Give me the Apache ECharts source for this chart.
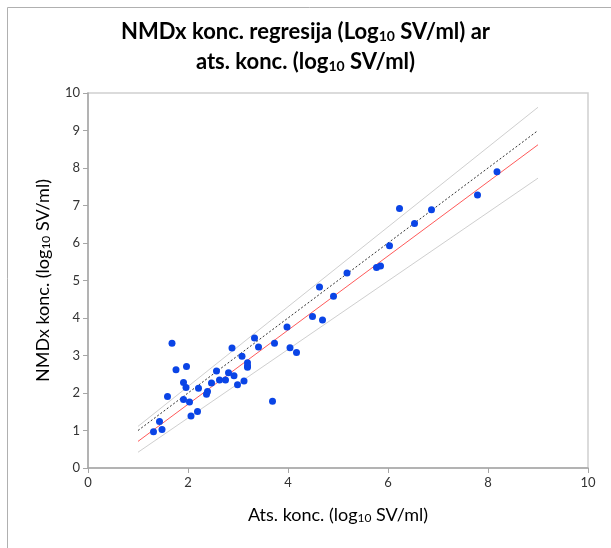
<!DOCTYPE html>
<html>
<head>
<meta charset="utf-8">
<script src="https://cdn.jsdelivr.net/npm/echarts@6/dist/echarts.min.js"></script>
<style>
  html, body { margin: 0; padding: 0; background: #fff; }
  #main { width: 611px; height: 548px; }
</style>
</head>
<body>
<div id="main"></div>
<script>
"use strict";
// atsauces koncentrācija (x) un NMDx koncentrācija (y), log10 SV/ml
let atsX = [1.31,1.43,1.48,1.59,1.68,1.76,1.91,1.91,1.96,1.97,2.03,2.06,2.19,2.21,2.37,2.39,2.47,2.57,2.63,2.75,
            2.81,2.88,2.92,2.99,3.08,3.12,3.19,3.19,3.19,3.33,3.41,3.69,3.73,3.98,4.04,4.17,4.49,4.63,4.69,4.91,
            5.18,5.77,5.85,6.03,6.23,6.53,6.87,7.79,8.18];
let nmdxY = [0.97,1.24,1.03,1.91,3.33,2.62,2.28,1.83,2.15,2.71,1.76,1.39,1.51,2.13,1.97,2.04,2.27,2.59,2.35,2.35,
             2.54,3.20,2.46,2.22,2.98,2.32,2.81,2.72,2.69,3.47,3.23,1.78,3.33,3.76,3.21,3.08,4.04,4.83,3.95,4.58,
             5.20,5.35,5.39,5.93,6.92,6.52,6.89,7.28,7.90];
// līniju galapunkti
let lineX = [1, 9];
let identityY = [1, 9];
let regressionY = [0.71, 8.62];
let upperY = [1.11, 9.62];
let lowerY = [0.42, 7.73];
let tickLabels = [0, 1, 2, 3, 4, 5, 6, 7, 8, 9, 10];

let FONT = 'Lato';
let myChart = echarts.init(document.getElementById('main'));

function pairs(xs, ys) {
    let out = [];
    for (let i = 0; i < xs.length; i++) out.push([xs[i], ys[i]]);
    return out;
}

function lineSeries(ys, color, type, z) {
    return {
        type: 'line',
        data: pairs(lineX, ys),
        showSymbol: false,
        silent: true,
        z: z,
        lineStyle: { color: color, width: 1, type: type }
    };
}

let axisGray = '#a6a6a6';
let nameRich = {
    a: { fontFamily: FONT, fontSize: 18, color: '#000' },
    s: { fontFamily: FONT, fontSize: 12, color: '#000', padding: [6, 0, 0, 0] }
};
let option = {
    animation: false,
    backgroundColor: '#fff',
    graphic: [{
        type: 'rect',
        shape: { x: 7.5, y: 7.5, width: 700, height: 600 },
        style: { fill: 'none', stroke: '#b0b0b0', lineWidth: 1 }
    }],
    title: {
        left: 'center',
        top: 12,
        text: '{a|NMDx konc. regresija (Log}{s|10}{a| SV/ml) ar}\n{a|ats. konc. (log}{s|10}{a| SV/ml)}',
        textStyle: {
            rich: {
                a: { fontFamily: FONT, fontWeight: 'bold', fontSize: 22, color: '#000', lineHeight: 30 },
                s: { fontFamily: FONT, fontWeight: 'bold', fontSize: 14, color: '#000', lineHeight: 30, padding: [8, 0, 0, 0] }
            }
        }
    },
    grid: { left: 88, right: 23, top: 93, bottom: 80, show: true, borderColor: '#d0d0d0', borderWidth: 1.5 },
    xAxis: {
        type: 'value', min: 0, max: 10, interval: 2,
        name: '{a|Ats. konc. (log}{s|10}{a| SV/ml)}',
        nameLocation: 'middle', nameGap: 38,
        nameTextStyle: { rich: nameRich },
        axisLine: { lineStyle: { color: axisGray, width: 1.5 } },
        axisTick: { show: true, length: 5, lineStyle: { color: axisGray } },
        axisLabel: { fontFamily: FONT, fontSize: 13, color: '#333', margin: 8 },
        splitLine: { show: false }
    },
    yAxis: {
        type: 'value', min: 0, max: 10, interval: 1,
        name: '{a|NMDx konc. (log}{s|10}{a| SV/ml)}',
        nameLocation: 'middle', nameGap: 36, nameRotate: 90,
        nameTextStyle: { rich: nameRich },
        axisLine: { lineStyle: { color: axisGray, width: 1.5 } },
        axisTick: { show: true, length: 5, lineStyle: { color: axisGray } },
        axisLabel: {
            fontFamily: FONT, fontSize: 13, color: '#333', margin: 8,
            formatter: function (v) { return tickLabels.indexOf(v) >= 0 ? String(v) : ''; }
        },
        splitLine: { show: false }
    },
    series: [
        lineSeries(upperY, '#cfcfcf', 'solid', 1),
        lineSeries(lowerY, '#cfcfcf', 'solid', 1),
        lineSeries(identityY, '#333333', [2, 2], 2),
        lineSeries(regressionY, '#ff5a5a', 'solid', 2),
        {
            type: 'scatter',
            data: pairs(atsX, nmdxY),
            symbolSize: 7,
            z: 5,
            itemStyle: { color: '#0a44e6', opacity: 1 }
        }
    ]
};
myChart.setOption(option);
</script>
</body>
</html>
